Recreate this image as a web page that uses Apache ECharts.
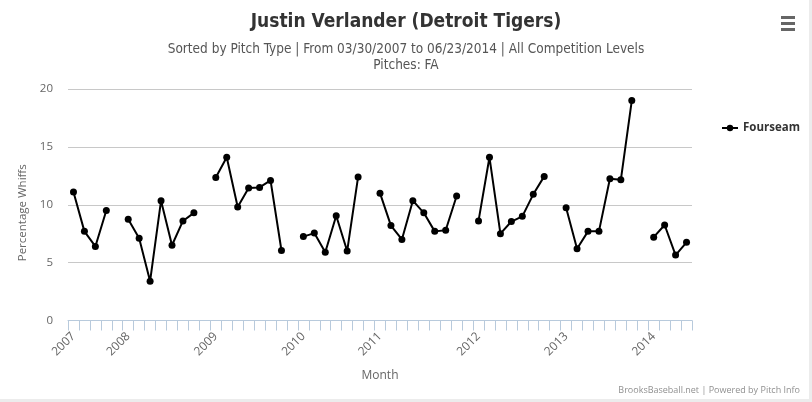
<!DOCTYPE html>
<html>
<head>
<meta charset="utf-8">
<title>Justin Verlander - Fourseam whiffs</title>
<script src="https://cdn.jsdelivr.net/npm/echarts@6/dist/echarts.min.js"></script>
<style>
  html, body { margin: 0; padding: 0; background: #fff; }
  #chart { width: 812px; height: 402px; }
</style>
</head>
<body>
<div id="chart"></div>
<script>
// months shown per season (year label only on the first month)
const seasonYears = ['2007', '2008', '2009', '2010', '2011', '2012', '2013', '2014'];
const seasonMonths = [5, 8, 8, 7, 9, 8, 8, 4];

// Fourseam whiff percentage per month (null = gap between seasons)
const fourseam = [
    11.1, 7.7, 6.4, 9.5, null,
    8.75, 7.1, 3.4, 10.35, 6.5, 8.6, 9.3, null,
    12.35, 14.1, 9.8, 11.45, 11.5, 12.1, 6.05, null,
    7.25, 7.55, 5.9, 9.05, 6.0, 12.4, null,
    11.0, 8.2, 7.0, 10.35, 9.3, 7.7, 7.8, 10.75, null,
    8.6, 14.1, 7.5, 8.55, 9.0, 10.9, 12.45, null,
    9.75, 6.2, 7.7, 7.7, 12.25, 12.15, 19.0, null,
    7.2, 8.25, 5.65, 6.75
];

const yTicks = [0, 5, 10, 15, 20];

// build the category list, e.g. "2007-1", "2007-2", ...
const categories = [];
seasonYears.forEach(function (yr, i) {
    for (let m = 1; m <= seasonMonths[i]; m++) {
        categories.push(yr + '-' + m);
    }
});

const labelFont = "'Open Sans', 'DejaVu Sans', sans-serif";
const narrowFont = "'Liberation Sans Narrow', 'DejaVu Sans Condensed', sans-serif";

const chart = echarts.init(document.getElementById('chart'));

chart.setOption({
    backgroundColor: '#fff',
    animation: false,
    title: {
        text: 'Justin Verlander (Detroit Tigers)',
        subtext: 'Sorted by Pitch Type | From 03/30/2007 to 06/23/2014 | All Competition Levels\nPitches: FA',
        left: 'center',
        top: 8,
        itemGap: 9,
        textStyle: { fontFamily: narrowFont, fontSize: 19, fontWeight: 'bold', color: '#333' },
        subtextStyle: { fontFamily: narrowFont, fontSize: 13.5, color: '#555', lineHeight: 16 }
    },
    legend: {
        orient: 'vertical',
        left: 716,
        top: 117,
        itemWidth: 16,
        itemHeight: 8,
        itemGap: 5,
        textStyle: { fontFamily: labelFont, fontSize: 11.5, fontWeight: 'bold', color: '#333' },
        data: ['Fourseam']
    },
    grid: { left: 68, right: 120, top: 89, bottom: 81.5 },
    xAxis: {
        type: 'category',
        data: categories,
        boundaryGap: true,
        name: 'Month',
        nameLocation: 'middle',
        nameGap: 49,
        nameTextStyle: { fontFamily: labelFont, fontSize: 12, color: '#666' },
        axisLine: { show: true, lineStyle: { color: '#B8CADC', width: 1 } },
        axisTick: { show: true, interval: 0, length: 10, lineStyle: { color: '#B8CADC', width: 1 } },
        axisLabel: {
            interval: 0,
            rotate: 45,
            margin: 14,
            fontFamily: labelFont,
            fontSize: 12,
            color: '#666',
            formatter: function (v) {
                const parts = v.split('-');
                return parts[1] === '1' ? parts[0] : '';
            }
        },
        splitLine: { show: false }
    },
    yAxis: {
        type: 'value',
        min: yTicks[0],
        max: yTicks[yTicks.length - 1],
        interval: 5,
        name: 'Percentage Whiffs',
        nameLocation: 'middle',
        nameGap: 37,
        nameTextStyle: { fontFamily: labelFont, fontSize: 11.5, color: '#666', padding: [0, 16, 0, 0] },
        axisLine: { show: false },
        axisTick: { show: false },
        axisLabel: { margin: 15, fontFamily: labelFont, fontSize: 11.5, color: '#666' },
        splitLine: { lineStyle: { color: '#C8C8C8', width: 1 } }
    },
    series: [{
        name: 'Fourseam',
        type: 'line',
        data: fourseam,
        connectNulls: false,
        symbol: 'circle',
        symbolSize: 7,
        color: '#000',
        lineStyle: { color: '#000', width: 2 },
        itemStyle: { color: '#000' }
    }],
    graphic: [
        // hamburger menu button
        { type: 'rect', left: 781, top: 16, shape: { width: 14, height: 3 }, style: { fill: '#666' } },
        { type: 'rect', left: 781, top: 22, shape: { width: 14, height: 3 }, style: { fill: '#666' } },
        { type: 'rect', left: 781, top: 28, shape: { width: 14, height: 3 }, style: { fill: '#666' } },
        // credits
        {
            type: 'text', right: 12, top: 386,
            style: { text: 'BrooksBaseball.net | Powered by Pitch Info', font: "9px 'Open Sans', sans-serif", fill: '#909090' }
        },
        // faint frame on right and bottom edges
        { type: 'rect', left: 809, top: 0, shape: { width: 3, height: 402 }, style: { fill: '#ececec' } },
        { type: 'rect', left: 0, top: 399, shape: { width: 812, height: 3 }, style: { fill: '#ececec' } }
    ]
});
</script>
</body>
</html>
